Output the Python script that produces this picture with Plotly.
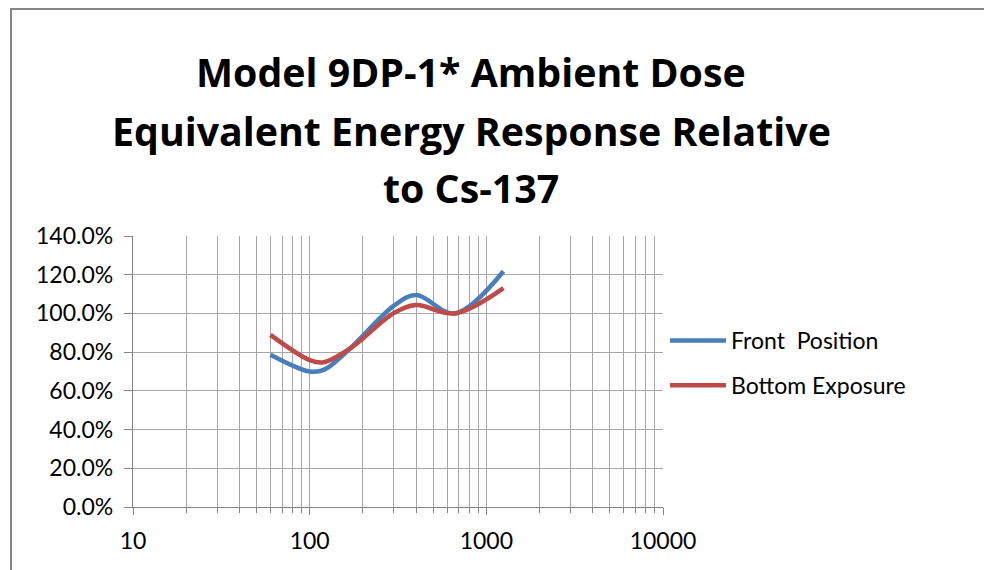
import plotly.graph_objects as go

# ---- data ----
energy_kev = [60, 100, 120, 170, 300, 400, 662, 1250]
front_position = [0.787, 0.700, 0.708, 0.820, 1.040, 1.095, 1.000, 1.218]
bottom_exposure = [0.889, 0.759, 0.748, 0.820, 1.002, 1.043, 1.000, 1.131]
series_names = ["Front\u00a0 Position", "Bottom Exposure"]
x_tick_vals = [10, 100, 1000, 10000]
x_tick_text = ["10", "100", "1000", "10000"]
title_lines = ["Model 9DP-1* Ambient Dose",
               "Equivalent Energy Response Relative",
               "to Cs-137"]

# ---- layout geometry (figure pixel coords) ----
W, H = 992, 570
L, R, T, B = 125, 337, 228, 71
pw = W - L - R
ph = H - T - B


def px_x(x):
    return (x - L) / pw


def px_y(y):
    return (H - B - y) / ph


FONT = "Lato"
TFONT = "Open Sans"
GRID = "#A6A6A6"
AXIS = "#868686"

fig = go.Figure()
fig.add_trace(go.Scatter(x=energy_kev, y=front_position, name=series_names[0],
                         mode="lines", legendgroup="a",
                         line=dict(color="#4A7EBB", width=4.5, shape="spline", smoothing=1)))
fig.add_trace(go.Scatter(x=energy_kev, y=bottom_exposure, name=series_names[1],
                         mode="lines", legendgroup="b",
                         line=dict(color="#BE4B48", width=4.5, shape="spline", smoothing=1)))

annotations = []
for txt, yc in zip(title_lines, [64, 123, 180]):
    annotations.append(dict(text=txt, xref="paper", yref="paper",
                            x=px_x(463), y=px_y(yc), xanchor="center", yanchor="middle",
                            showarrow=False,
                            font=dict(family=TFONT, size=39.3, color="black", weight="bold")))

fig.update_layout(
    width=W, height=H,
    margin=dict(l=L, r=R, t=T, b=B, autoexpand=False),
    paper_bgcolor="white", plot_bgcolor="white",
    showlegend=True,
    legend=dict(x=px_x(657), y=px_y(311), xanchor="left", yanchor="top",
                font=dict(family=FONT, size=23, color="black"),
                tracegroupgap=12, itemwidth=56, bgcolor="rgba(0,0,0,0)"),
    annotations=annotations,
    shapes=[dict(type="rect", xref="paper", yref="paper",
                 x0=px_x(3), x1=px_x(1010), y0=px_y(1), y1=px_y(600),
                 line=dict(color=AXIS, width=2), fillcolor="rgba(0,0,0,0)", layer="below")],
    xaxis=dict(type="log", range=[1, 4], tickvals=x_tick_vals, ticktext=x_tick_text,
               showgrid=True, gridcolor=GRID, gridwidth=1.3,
               showline=True, linecolor=AXIS, linewidth=1.3,
               ticks="outside", ticklen=7, tickcolor=AXIS, tickwidth=1.3,
               ticklabelstandoff=6,
               tickfont=dict(family=FONT, size=23, color="black"),
               minor=dict(dtick="D1", showgrid=True, gridcolor=GRID, gridwidth=1.3,
                          ticks="outside", ticklen=5, tickcolor=AXIS, tickwidth=1.3),
               zeroline=False),
    yaxis=dict(range=[0, 1.4], dtick=0.2, tickformat=".1%",
               showgrid=True, gridcolor=GRID, gridwidth=1.3,
               showline=True, linecolor=AXIS, linewidth=1.3,
               ticks="outside", ticklen=8, tickcolor=AXIS, tickwidth=1.3,
               ticklabelstandoff=6,
               tickfont=dict(family=FONT, size=23, color="black"),
               zeroline=False),
)

fig.write_html("out.html")
